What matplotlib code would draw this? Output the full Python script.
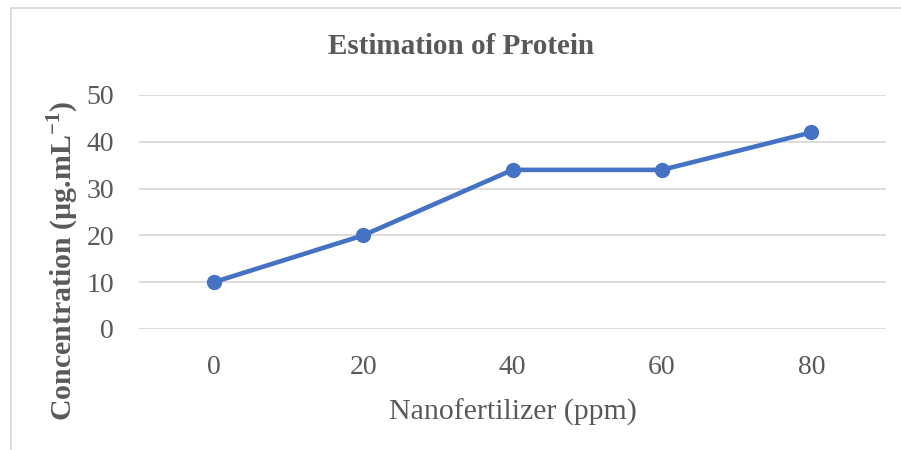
import matplotlib.pyplot as plt
from matplotlib.patches import Rectangle

# Data
doses = ["0", "20", "40", "60", "80"]
protein = [10, 20, 34, 34, 42]
yticks = [0, 10, 20, 30, 40, 50]

plt.rcParams['font.family'] = ['Liberation Serif', 'DejaVu Serif']
plt.rcParams['mathtext.fontset'] = 'custom'
plt.rcParams['mathtext.rm'] = 'Liberation Serif'
plt.rcParams['mathtext.bf'] = 'Liberation Serif:bold'
grey = '#595959'

fig = plt.figure(figsize=(9.01, 4.5), dpi=100)
ax = fig.add_axes([139/901, 1 - 329/450, 747/901, (329 - 95)/450])

x = range(len(doses))
ax.plot(x, protein, color='#4472C4', lw=3.3, marker='o', ms=10, zorder=3)

ax.set_xlim(-0.5, len(doses) - 0.5)
ax.set_ylim(0, 50)
ax.set_yticks(yticks)
ax.set_xticks(list(x))
ax.set_xticklabels(doses)
ax.tick_params(axis='both', length=0, labelsize=20, colors=grey)
ax.tick_params(axis='x', pad=19)
ax.tick_params(axis='y', pad=18)
ax.grid(axis='y', color='#D9D9D9', lw=1.3)
ax.set_axisbelow(True)
for s in ax.spines.values():
    s.set_visible(False)

ax.set_xlabel("Nanofertilizer (ppm)", fontsize=21.5, color=grey, labelpad=13)
ax.set_ylabel(r"Concentration (µg.mL$^{\mathbf{-1}}$)", fontsize=21.5,
              color=grey, fontweight='bold')
ax.yaxis.set_label_coords((81 - 139) / 747, (329 - 261) / 234)
fig.text(461/901, 1 - 47/450, "Estimation of Protein", fontsize=21,
         fontweight='bold', color=grey, ha='center', va='center')

# chart border
fig.patches.append(Rectangle((11/901, -0.1), 1.2, 1 - 8/450 + 0.1,
                             transform=fig.transFigure, fill=False,
                             edgecolor='#D9D9D9', lw=1.3))

fig.savefig("out.png", dpi=100)
